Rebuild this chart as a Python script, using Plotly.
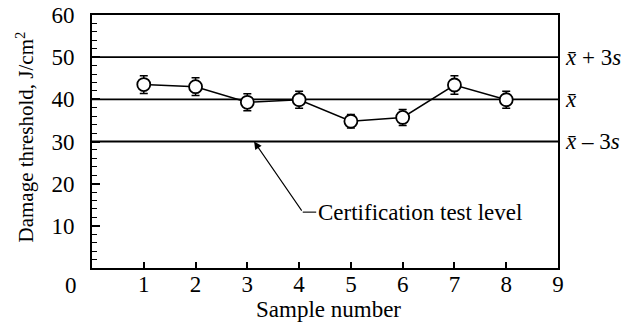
import plotly.graph_objects as go

samples = [1, 2, 3, 4, 5, 6, 7, 8]
threshold = [43.5, 43.0, 39.3, 39.9, 34.8, 35.7, 43.4, 39.9]
err = [2.1, 2.1, 2.0, 2.0, 1.6, 1.9, 2.2, 2.0]
ref_levels = [50, 40, 30]
ref_labels = ["<i>x̄</i> + 3<i>s</i>", "<i>x̄</i>", "<i>x̄</i> – 3<i>s</i>"]
x_ticks = [1, 2, 3, 4, 5, 6, 7, 8, 9]
y_ticks = [10, 20, 30, 40, 50, 60]

FONT = "Liberation Serif"
FS = 23

fig = go.Figure()
fig.add_trace(go.Scatter(
    x=samples, y=threshold, mode="lines+markers",
    line=dict(color="black", width=1.5),
    marker=dict(symbol="circle", size=13, color="white",
                line=dict(color="black", width=1.8)),
    error_y=dict(type="data", array=err, color="black", thickness=1.5, width=4),
    showlegend=False, hoverinfo="skip",
))

for lvl, lab in zip(ref_levels, ref_labels):
    fig.add_shape(type="line", xref="paper", x0=0, x1=1, yref="y", y0=lvl, y1=lvl,
                  line=dict(color="black", width=1.8), layer="below")
    fig.add_annotation(xref="paper", x=1, y=lvl, yref="y", text=lab, showarrow=False,
                       xanchor="left", xshift=5, font=dict(family=FONT, size=FS, color="black"))

# certification arrow
knee_x, knee_y = 4.07, 13.25
fig.add_annotation(x=3.13, y=30, ax=knee_x, ay=knee_y, axref="x", ayref="y",
                   xref="x", yref="y", text="", showarrow=True,
                   arrowhead=2, arrowsize=1.4, arrowwidth=1.1, arrowcolor="black")
fig.add_shape(type="line", x0=knee_x, x1=4.33, y0=knee_y, y1=knee_y,
              line=dict(color="black", width=1.1))
fig.add_annotation(x=4.33, y=knee_y, text="Certification test level", showarrow=False,
                   xanchor="left", font=dict(family=FONT, size=FS, color="black"))

# origin label
fig.add_annotation(x=0, y=0, text="0", showarrow=False, xshift=-21, yshift=-17,
                   font=dict(family=FONT, size=FS, color="black"))

# axis titles
fig.add_annotation(xref="paper", yref="paper", x=0.5, y=0, xshift=3, yshift=-41,
                   text="Sample number", showarrow=False, yanchor="middle",
                   font=dict(family=FONT, size=FS, color="black"))
fig.add_annotation(xref="paper", yref="paper", x=0, y=0.5, xshift=-67, yshift=4,
                   text="Damage threshold, J/cm<sup>2</sup>", showarrow=False,
                   textangle=-90, xanchor="center", yanchor="middle",
                   font=dict(family=FONT, size=21, color="black"))

fig.update_layout(
    width=636, height=327,
    margin=dict(l=92, r=78, t=15, b=59),
    plot_bgcolor="white", paper_bgcolor="white",
    font=dict(family=FONT, size=FS, color="black"),
)
fig.update_xaxes(
    range=[0, 9], tickvals=x_ticks, ticks="inside", ticklen=6, tickwidth=1.5,
    tickcolor="black", showgrid=False, zeroline=False, automargin=False,
    showline=True, linecolor="black", linewidth=2, mirror=True,
    tickfont=dict(size=FS), ticklabelstandoff=-6,
)
fig.update_yaxes(
    range=[0, 60], tickvals=y_ticks, ticks="inside", ticklen=8, tickwidth=1.5,
    tickcolor="black", showgrid=False, zeroline=False, automargin=False,
    showline=True, linecolor="black", linewidth=2, mirror=True,
    minor=dict(dtick=2, ticks="inside", ticklen=5, tickwidth=1.2, tickcolor="black"),
    tickfont=dict(size=FS), ticklabelstandoff=11,
)

fig.write_html("out.html", config={"displayModeBar": False},
               post_script="document.body.style.margin='0';")
